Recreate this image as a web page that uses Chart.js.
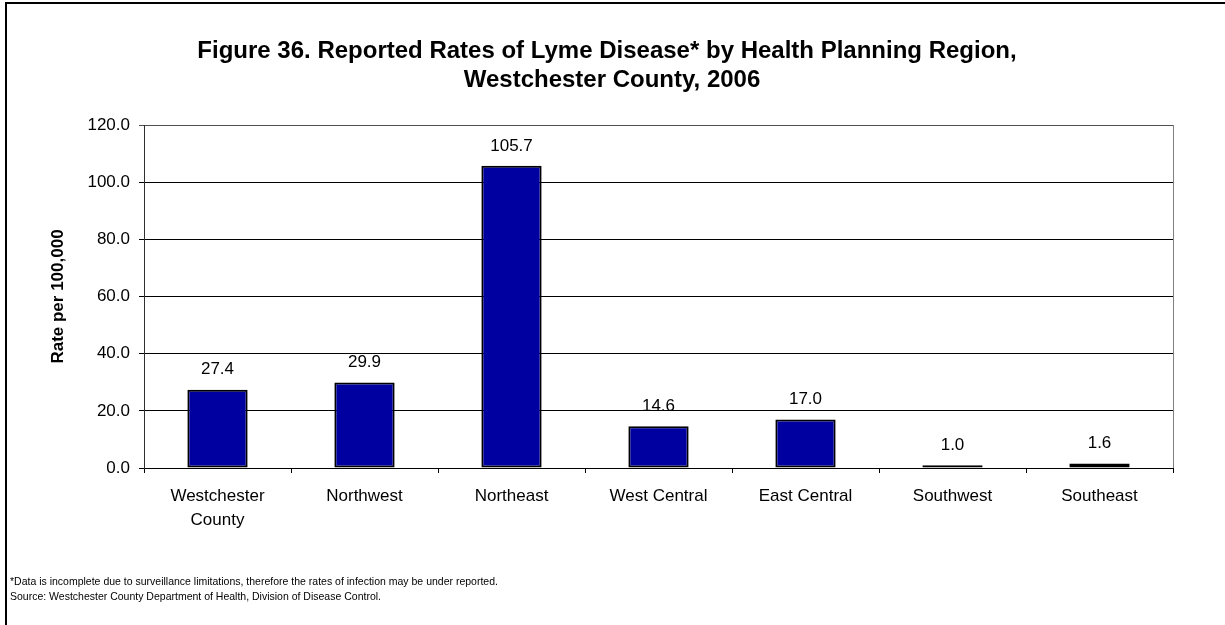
<!DOCTYPE html>
<html>
<head>
<meta charset="utf-8">
<script src="https://cdn.jsdelivr.net/npm/chart.js@4.4.0/dist/chart.umd.min.js"></script>
<style>
  html, body { margin: 0; padding: 0; background: #ffffff; }
  #wrap { width: 1225px; height: 625px; position: relative; }
  canvas { display: block; }
</style>
</head>
<body>
<div id="wrap"><canvas id="chart" width="1225" height="625"></canvas></div>
<script>
// Health planning regions and their reported Lyme disease rates (per 100,000)
const categories = [["Westchester", "County"], "Northwest", "Northeast", "West Central", "East Central", "Southwest", "Southeast"];
const rates = [27.4, 29.9, 105.7, 14.6, 17.0, 1.0, 1.6];

// Value axis range
const yMin = 0;
const yMax = 120;
const yStep = 20;

// Text
const titleLines = [
  "Figure 36. Reported Rates of Lyme Disease* by Health Planning Region,",
  "Westchester County, 2006"
];
const yAxisTitle = "Rate per 100,000";
const notes = [
  "*Data is incomplete due to surveillance limitations, therefore the rates of infection may be under reported.",
  "Source: Westchester County Department of Health, Division of Disease Control."
];

const FONT = "'Liberation Sans', Arial, Helvetica, sans-serif";

// Frame, heading, footnotes and the right edge of the plot box
const decorations = {
  id: 'decorations',
  beforeDraw(chart) {
    const ctx = chart.ctx;
    ctx.save();
    ctx.fillStyle = '#ffffff';
    ctx.fillRect(0, 0, chart.width, chart.height);
    ctx.strokeStyle = '#000000';
    ctx.lineWidth = 2;
    ctx.beginPath();
    ctx.moveTo(6, chart.height);
    ctx.lineTo(6, 3);
    ctx.lineTo(chart.width, 3);
    ctx.stroke();
    ctx.restore();
  },
  afterDraw(chart) {
    const ctx = chart.ctx;
    const area = chart.chartArea;
    ctx.save();
    // right side of the plot box
    ctx.strokeStyle = '#808080';
    ctx.lineWidth = 1;
    ctx.beginPath();
    ctx.moveTo(Math.round(area.right) + 0.5, area.top);
    ctx.lineTo(Math.round(area.right) + 0.5, area.bottom);
    ctx.stroke();

    // heading
    ctx.fillStyle = '#000000';
    ctx.textAlign = 'center';
    ctx.textBaseline = 'middle';
    ctx.font = "bold 24px " + FONT;
    ctx.fillText(titleLines[0], 607, 51);
    ctx.fillText(titleLines[1], 612, 80);

    // footnotes
    ctx.textAlign = 'left';
    ctx.font = "10.5px " + FONT;
    ctx.fillText(notes[0], 10, 582);
    ctx.fillText(notes[1], 10, 597);
    ctx.restore();
  }
};

// Value labels above each bar
const valueLabels = {
  id: 'valueLabels',
  afterDatasetsDraw(chart) {
    const ctx = chart.ctx;
    const meta = chart.getDatasetMeta(0);
    const data = chart.data.datasets[0].data;
    ctx.save();
    ctx.fillStyle = '#000000';
    ctx.font = "17px " + FONT;
    ctx.textAlign = 'center';
    ctx.textBaseline = 'middle';
    meta.data.forEach((bar, i) => {
      ctx.fillText(data[i].toFixed(1), bar.x, bar.y - 20);
    });
    ctx.restore();
  }
};

new Chart(document.getElementById('chart'), {
  type: 'bar',
  data: {
    labels: categories,
    datasets: [{
      data: rates,
      backgroundColor: '#0000A0',
      borderColor: '#000000',
      borderWidth: 2,
      borderSkipped: false,
      categoryPercentage: 1.0,
      barPercentage: 0.41
    }]
  },
  options: {
    responsive: false,
    animation: false,
    devicePixelRatio: 1,
    layout: { padding: { left: 40, right: 52, top: 125, bottom: 77 } },
    plugins: {
      legend: { display: false },
      title: { display: false },
      tooltip: { enabled: false }
    },
    scales: {
      x: {
        offset: true,
        afterFit(scale) { scale.height = 80; },
        grid: {
          offset: true,
          drawOnChartArea: false,
          drawTicks: true,
          tickLength: 5,
          color: '#000000',
          lineWidth: 1
        },
        border: { display: true, color: '#000000', width: 1 },
        ticks: {
          color: '#000000',
          font: { family: FONT, size: 17, lineHeight: 1.41 },
          padding: 11,
          maxRotation: 0,
          autoSkip: false
        }
      },
      y: {
        min: yMin,
        max: yMax,
        afterFit(scale) { scale.width = 104; },
        grid: {
          color: (c) => (c.tick && c.tick.value === yMax ? '#505050' : '#000000'),
          lineWidth: 1,
          drawTicks: true,
          tickLength: 5
        },
        border: { display: true, color: '#303030', width: 1 },
        ticks: {
          stepSize: yStep,
          color: '#000000',
          font: { family: FONT, size: 17 },
          padding: 9,
          callback: (v) => Number(v).toFixed(1)
        },
        title: {
          display: true,
          text: yAxisTitle,
          color: '#000000',
          font: { family: FONT, size: 17, weight: 'bold', lineHeight: 1.2 },
          padding: { top: 8, bottom: 0 }
        }
      }
    }
  },
  plugins: [decorations, valueLabels]
});
</script>
</body>
</html>
